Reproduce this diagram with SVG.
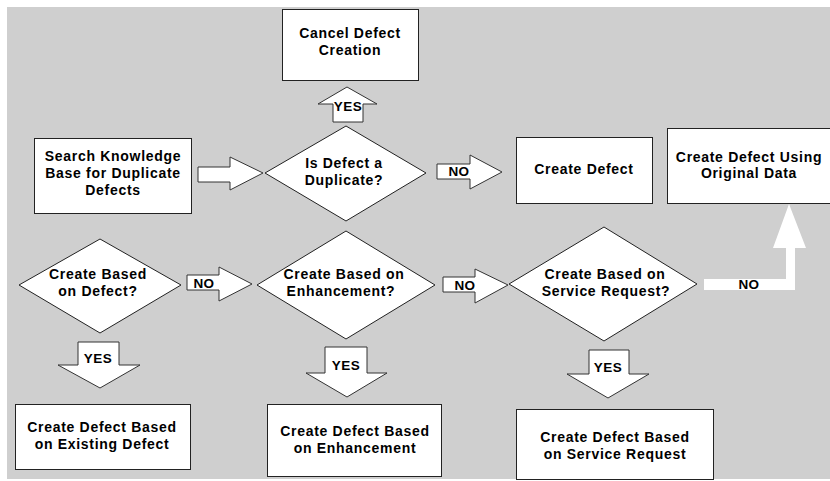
<svg xmlns="http://www.w3.org/2000/svg" width="830" height="481" viewBox="0 0 830 481">
<style>
text{font-family:"Liberation Sans",Arial,sans-serif;font-weight:bold;font-size:14px;letter-spacing:0.7px;fill:#000;text-anchor:middle}
.box{fill:#fff;stroke:#222;stroke-width:1}
.arr{fill:#fff;stroke:#333;stroke-width:1}
.lbl{font-size:13.5px;letter-spacing:0.5px}
</style>
<rect x="0" y="0" width="830" height="481" fill="#fff"/>
<rect x="7" y="7" width="823" height="472" fill="#cfcfcf"/>
<g id="connectors">
<polygon class="arr" points="198,167 230,167 230,157 263,173 230,190 230,182 198,182"/>
<polygon class="arr" points="333,122 333,104 318,104 347,87 377,104 363,104 363,122"/>
<text x="348" y="111" class="lbl">YES</text>
<polygon class="arr" points="437,164 470,164 470,155 502,172 470,189 470,179 437,179"/>
<text x="459" y="176" class="lbl">NO</text>
<polygon class="arr" points="187,275 219,275 219,267 252,284 219,301 219,290 187,290"/>
<text x="204" y="288" class="lbl">NO</text>
<polygon class="arr" points="443,277 475,277 475,269 508,285 475,303 475,292 443,292"/>
<text x="465" y="290" class="lbl">NO</text>
<polygon class="arr" points="78,342 119,342 119,365 140,365 100,388 58,365 78,365"/>
<text x="98" y="363" class="lbl">YES</text>
<polygon class="arr" points="325,347 367,347 367,373 387,373 347,397 306,373 325,373"/>
<text x="346" y="370" class="lbl">YES</text>
<polygon class="arr" points="589,350 629,350 629,374 649,374 608,398 567,374 589,374"/>
<text x="608" y="372" class="lbl">YES</text>
<polygon fill="#fff" points="704,279 786,279 786,248 773,248 789,204 806,248 795,248 795,290 704,290"/>
<text x="749" y="289" class="lbl">NO</text>
</g>
<g id="cancel">
<rect class="box" x="282.5" y="9.5" width="136" height="71"/>
<text x="350" y="38">Cancel Defect</text>
<text x="350" y="55">Creation</text>
</g>
<g id="search">
<rect class="box" x="34.5" y="138.5" width="157" height="75"/>
<text x="113" y="161">Search Knowledge</text>
<text x="113" y="178">Base for Duplicate</text>
<text x="113" y="195">Defects</text>
</g>
<g id="isdup">
<polygon class="box" points="346,126 426,173 346,221 265,173"/>
<text x="344" y="168">Is Defect a</text>
<text x="344" y="185">Duplicate?</text>
</g>
<g id="create">
<rect class="box" x="516.5" y="137.5" width="136" height="66"/>
<text x="584" y="174">Create Defect</text>
</g>
<g id="original">
<rect class="box" x="667.5" y="128.5" width="170" height="75"/>
<text x="749" y="162">Create Defect Using</text>
<text x="749" y="178">Original Data</text>
</g>
<g id="basedDefect">
<polygon class="box" points="100,239 181,285 100,333 19,285"/>
<text x="98" y="279">Create Based</text>
<text x="98" y="296">on Defect?</text>
</g>
<g id="basedEnh">
<polygon class="box" points="346,231 435,285 346,339 257,285"/>
<text x="344" y="279">Create Based on</text>
<text x="341" y="296">Enhancement?</text>
</g>
<g id="basedSR">
<polygon class="box" points="604,227 697,284 604,341 509,284"/>
<text x="605" y="279">Create Based on</text>
<text x="606" y="296">Service Request?</text>
</g>
<g id="existing">
<rect class="box" x="15.5" y="404.5" width="175" height="65"/>
<text x="102" y="432">Create Defect Based</text>
<text x="102" y="449">on Existing Defect</text>
</g>
<g id="enh">
<rect class="box" x="267.5" y="404.5" width="174" height="72"/>
<text x="355" y="436">Create Defect Based</text>
<text x="355" y="453">on Enhancement</text>
</g>
<g id="sr">
<rect class="box" x="516.5" y="409.5" width="197" height="70"/>
<text x="615" y="442">Create Defect Based</text>
<text x="615" y="459">on Service Request</text>
</g>
</svg>
